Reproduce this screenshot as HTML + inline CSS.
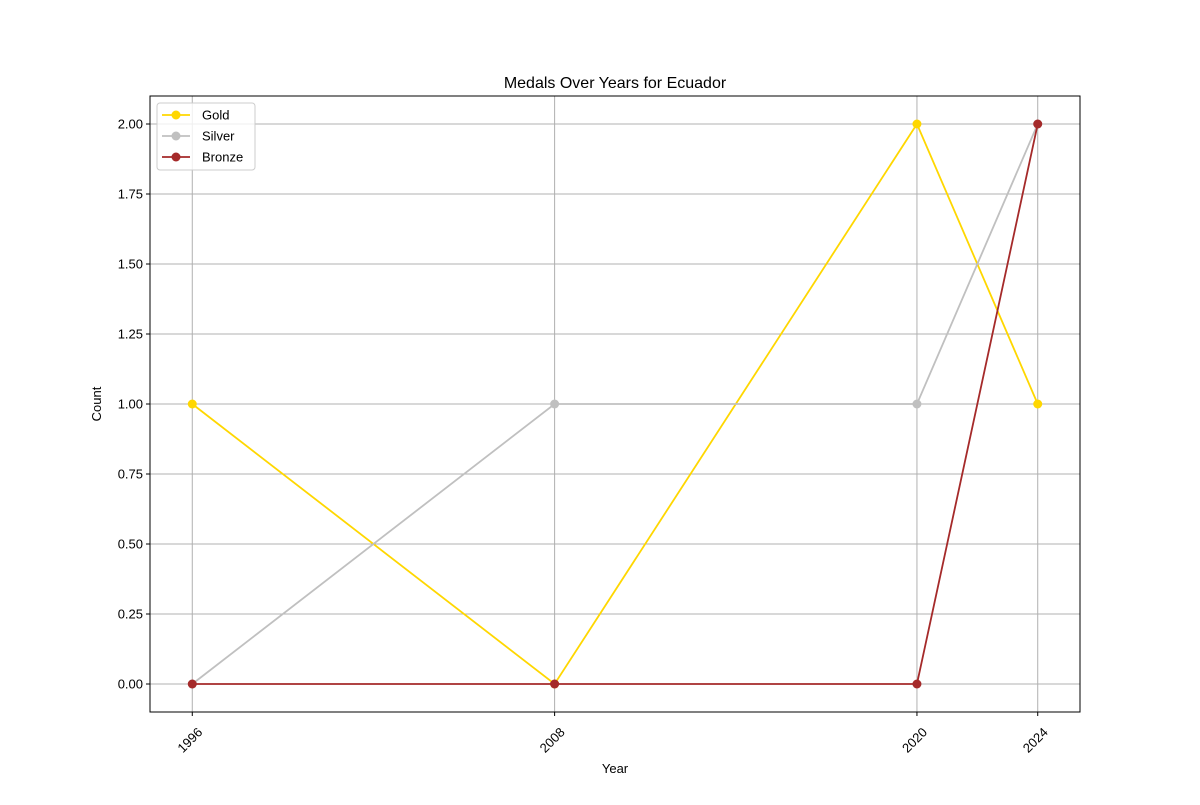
<!DOCTYPE html>
<html><head><meta charset="utf-8"><style>
body{margin:0;background:#fff;}
svg text{font-family:"Liberation Sans","DejaVu Sans",sans-serif;fill:#000;}
</style></head><body>
<svg id="chart" width="1200" height="800" xmlns="http://www.w3.org/2000/svg">
<rect width="1200" height="800" fill="#fff"/>
<text x="615" y="88" font-size="16" text-anchor="middle">Medals Over Years for Ecuador</text>
<g id="grid"></g>
<g id="axes"></g>
<g id="series"></g>
<rect x="150" y="96" width="930" height="616" fill="none" stroke="#000" stroke-width="1"/>
<text x="615" y="773" font-size="13" text-anchor="middle">Year</text>
<text x="101" y="404" font-size="13" text-anchor="middle" transform="rotate(-90 101 404)">Count</text>
<g id="legend"></g>
</svg>
<script>
const years = [1996, 2008, 2020, 2024];
const gold = [1, 0, 2, 1];
const silver = [0, 1, 1, 2];
const bronze = [0, 0, 0, 2];
const yTicks = [0, 0.25, 0.5, 0.75, 1.0, 1.25, 1.5, 1.75, 2.0];
const seriesNames = ["Gold", "Silver", "Bronze"];

const NS = "http://www.w3.org/2000/svg";
const L = 150, R = 1080, T = 96, B = 712;
const xmin = Math.min(...years), xmax = Math.max(...years);
const xpad = (xmax - xmin) * 0.05;
const allVals = gold.concat(silver, bronze);
const ymin0 = Math.min(...allVals), ymax0 = Math.max(...allVals);
const ypad = (ymax0 - ymin0) * 0.05;
const xs = v => L + (v - (xmin - xpad)) / ((xmax + xpad) - (xmin - xpad)) * (R - L);
const ys = v => B - (v - (ymin0 - ypad)) / ((ymax0 + ypad) - (ymin0 - ypad)) * (B - T);
function mk(tag, attrs, parent) {
  const e = document.createElementNS(NS, tag);
  for (const k in attrs) e.setAttribute(k, attrs[k]);
  parent.appendChild(e); return e;
}
const grid = document.getElementById('grid'), axes = document.getElementById('axes');
years.forEach(yr => {
  const x = xs(yr);
  const g = mk('line', {x1: x, x2: x, y1: T, y2: B, stroke: '#b0b0b0', 'stroke-width': 1}, grid);
  
  
  mk('line', {x1: x, x2: x, y1: B, y2: B + 4, stroke: '#000'}, axes);
  const ax = x + 11, ay = B + 21;
  const t = mk('text', {x: ax, y: ay, 'font-size': 13, 'text-anchor': 'end', transform: `rotate(-45 ${ax} ${ay})`}, axes);
  t.textContent = yr;
  
  
});
yTicks.forEach(v => {
  const y = ys(v);
  const g = mk('line', {x1: L, x2: R, y1: y, y2: y, stroke: '#b0b0b0', 'stroke-width': 1}, grid);
  
  
  mk('line', {x1: L - 4, x2: L, y1: y, y2: y, stroke: '#000'}, axes);
  const t = mk('text', {x: L - 7, y: y + 4.5, 'font-size': 13, 'text-anchor': 'end'}, axes);
  t.textContent = v.toFixed(2);
  
  
});
const seriesData = [gold, silver, bronze];
const colors = ['#FFD700', '#C0C0C0', '#A52A2A'];
const sg = document.getElementById('series');
seriesData.forEach((vals, i) => {
  const pts = vals.map((v, j) => xs(years[j]) + ',' + ys(v)).join(' ');
  const pl = mk('polyline', {points: pts, fill: 'none', stroke: colors[i], 'stroke-width': 1.8}, sg);
  
  
  vals.forEach((v, j) => {
    const c = mk('circle', {cx: xs(years[j]), cy: ys(v), r: 4.5, fill: colors[i]}, sg);
    
    
  });
});
const lg = document.getElementById('legend');
const box = mk('rect', {x: 157, y: 103, width: 98, height: 67, rx: 3, fill: '#fff', 'fill-opacity': 0.8, stroke: '#ccc'}, lg);


seriesNames.forEach((n, i) => {
  const y = 115 + i * 21;
  mk('line', {x1: 162, x2: 190, y1: y, y2: y, stroke: colors[i], 'stroke-width': 1.8}, lg);
  mk('circle', {cx: 176, cy: y, r: 4.5, fill: colors[i]}, lg);
  const t = mk('text', {x: 202, y: y + 4.5, 'font-size': 13}, lg);
  t.textContent = n;
  
  
});
</script>
</body></html>
